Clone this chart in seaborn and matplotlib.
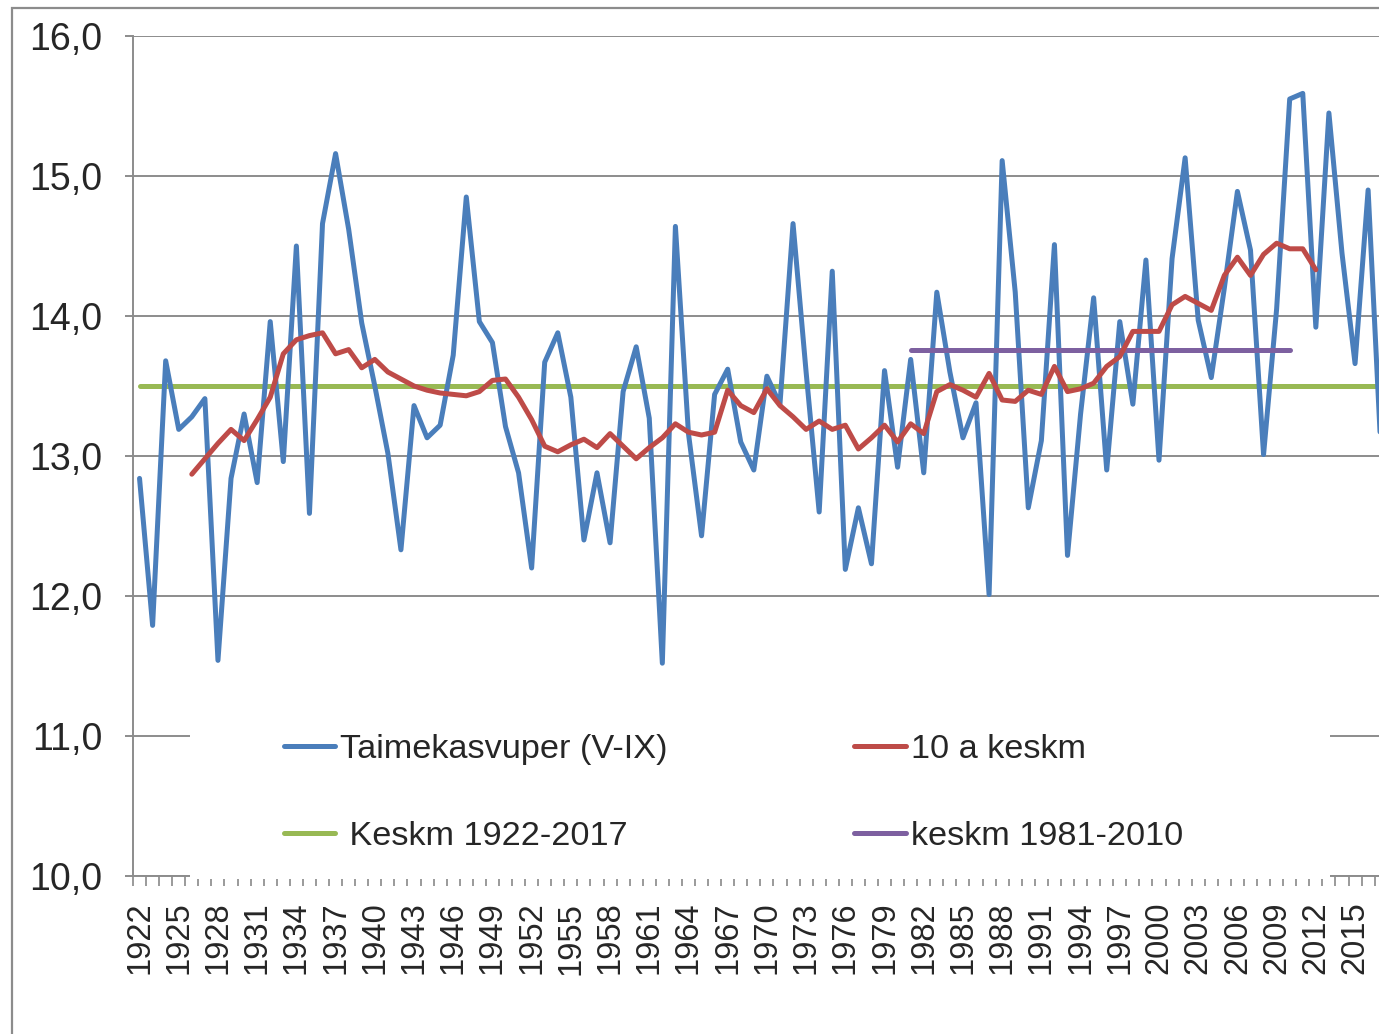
import numpy as np
import pandas as pd
import matplotlib
matplotlib.use("Agg")
import matplotlib.pyplot as plt
from matplotlib.patches import Rectangle
from matplotlib.ticker import FixedLocator, FuncFormatter
import seaborn as sns

# ---------------- data ----------------
years = list(range(1922, 2018))
growing_season_temp = [
    12.84, 11.79, 13.68, 13.19, 13.28, 13.41, 11.54, 12.84, 13.30, 12.81,   # 1922-1931
    13.96, 12.96, 14.50, 12.59, 14.66, 15.16, 14.62, 13.95, 13.50, 13.02,   # 1932-1941
    12.33, 13.36, 13.13, 13.22, 13.72, 14.85, 13.96, 13.81, 13.21, 12.88,   # 1942-1951
    12.20, 13.67, 13.88, 13.42, 12.40, 12.88, 12.38, 13.46, 13.78, 13.27,   # 1952-1961
    11.52, 14.64, 13.16, 12.43, 13.44, 13.62, 13.10, 12.90, 13.57, 13.37,   # 1962-1971
    14.66, 13.60, 12.60, 14.32, 12.19, 12.63, 12.23, 13.61, 12.92, 13.69,   # 1972-1981
    12.88, 14.17, 13.60, 13.13, 13.38, 12.01, 15.11, 14.17, 12.63, 13.11,   # 1982-1991
    14.51, 12.29, 13.30, 14.13, 12.90, 13.96, 13.37, 14.40, 12.97, 14.41,   # 1992-2001
    15.13, 13.97, 13.56, 14.20, 14.89, 14.47, 13.01, 14.05, 15.55, 15.59,   # 2002-2011
    13.92, 15.45, 14.45, 13.66, 14.90, 13.00,                               # 2012-2017
]

ma_years = list(range(1926, 2013))
ma_values = [
    12.87, 12.98, 13.09, 13.19, 13.11, 13.26, 13.42, 13.73, 13.83, 13.86,   # 1926-1935
    13.88, 13.73, 13.76, 13.63, 13.69, 13.60, 13.55, 13.50, 13.47, 13.45,   # 1936-1945
    13.44, 13.43, 13.46, 13.54, 13.55, 13.42, 13.26, 13.07, 13.03, 13.08,   # 1946-1955
    13.12, 13.06, 13.16, 13.07, 12.98, 13.06, 13.13, 13.23, 13.17, 13.15,   # 1956-1965
    13.17, 13.47, 13.36, 13.31, 13.48, 13.36, 13.28, 13.19, 13.25, 13.19,   # 1966-1975
    13.22, 13.05, 13.13, 13.22, 13.10, 13.23, 13.16, 13.46, 13.51, 13.47,   # 1976-1985
    13.42, 13.59, 13.40, 13.39, 13.47, 13.44, 13.64, 13.46, 13.48, 13.52,   # 1986-1995
    13.64, 13.71, 13.89, 13.89, 13.89, 14.08, 14.14, 14.09, 14.04, 14.29,   # 1996-2005
    14.42, 14.29, 14.44, 14.52, 14.48, 14.48, 14.33,                        # 2006-2012
]

mean_all_years = [1922, 2017]
mean_all_value = 13.50
mean_norm_years = [1981, 2010]
mean_norm_value = 13.76

tick_years = list(range(1922, 2016, 3))
y_ticks = [10, 11, 12, 13, 14, 15, 16]

labels = ["Taimekasvuper (V-IX)", "10 a keskm", " Keskm 1922-2017", "keskm 1981-2010"]
colors = ["#4A7EBB", "#BE4B48", "#98B954", "#7D60A0"]

# ---------------- figure ----------------
sns.set_style("white")
plt.rcParams["font.family"] = ["Liberation Sans", "DejaVu Sans"]

W, H = 1379, 1034
fig = plt.figure(figsize=(W / 100, H / 100), dpi=100)
fig.patch.set_facecolor("white")

ax_left, ax_right, ax_top, ax_bottom = 133, 1379, 36, 876
ax = fig.add_axes([ax_left / W, 1 - ax_bottom / H, (ax_right - ax_left) / W, (ax_bottom - ax_top) / H])

df_main = pd.DataFrame({"year": years, "v": growing_season_temp})
df_ma = pd.DataFrame({"year": ma_years, "v": ma_values})
df_all = pd.DataFrame({"year": mean_all_years, "v": [mean_all_value] * len(mean_all_years)})
df_norm = pd.DataFrame({"year": mean_norm_years, "v": [mean_norm_value] * len(mean_norm_years)})

lw = 3.6
sns.lineplot(data=df_all, x="year", y="v", ax=ax, color=colors[2], linewidth=lw, label=labels[2], zorder=2)
sns.lineplot(data=df_main, x="year", y="v", ax=ax, color=colors[0], linewidth=lw, label=labels[0], zorder=3)
sns.lineplot(data=df_ma, x="year", y="v", ax=ax, color=colors[1], linewidth=lw, label=labels[1], zorder=3.2)
sns.lineplot(data=df_norm, x="year", y="v", ax=ax, color=colors[3], linewidth=lw, label=labels[3], zorder=3.1)

# axes limits (chart cropped on the right)
px_per_year = 13.07
x0 = 1921.5
ax.set_xlim(x0, x0 + (ax_right - ax_left) / px_per_year)
ax.set_ylim(10, 16)

# grid
ax.set_yticks(y_ticks)
ax.yaxis.grid(True, color="#8C8C8C", linewidth=1.4)
ax.xaxis.grid(False)
ax.set_axisbelow(True)

# spines
for s in ["top", "right"]:
    ax.spines[s].set_visible(False)
for s in ["left", "bottom"]:
    ax.spines[s].set_visible(True)
    ax.spines[s].set_color("#8C8C8C")
    ax.spines[s].set_linewidth(1.4)

ax.yaxis.set_major_formatter(FuncFormatter(lambda v, p: f"{v:.1f}".replace(".", ",")))
ax.tick_params(axis="y", which="major", direction="out", length=6, width=1.4, color="#8C8C8C",
               labelsize=27, pad=16, left=True)

ax.xaxis.set_major_locator(FixedLocator(tick_years))
ax.set_xticklabels([str(y) for y in tick_years], rotation=90)
ax.xaxis.set_minor_locator(FixedLocator([y + 0.5 for y in range(1921, 2018)]))
ax.tick_params(axis="x", which="major", length=0, labelsize=23.5, pad=18.5)
ax.tick_params(axis="x", which="minor", direction="out", length=7, width=1.4, color="#9A9A9A", bottom=True)

ax.set_xlabel("")
ax.set_ylabel("")

# legend with white box covering the lower grid/axis line
cover = Rectangle(((190 - ax_left) / (ax_right - ax_left), (ax_bottom - 879) / (ax_bottom - ax_top)),
                  (1330 - 190) / (ax_right - ax_left), (879 - 722) / (ax_bottom - ax_top),
                  transform=ax.transAxes, facecolor="white", edgecolor="none",
                  zorder=4, clip_on=False)
ax.add_patch(cover)

handles, labs = ax.get_legend_handles_labels()
order = [labs.index(l) for l in [labels[0], labels[2], labels[1], labels[3]]]
leg = ax.legend([handles[i] for i in order], [labs[i] for i in order], ncol=2,
                loc="center", bbox_to_anchor=((733.5 - ax_left) / (ax_right - ax_left),
                                              (ax_bottom - 793) / (ax_bottom - ax_top)),
                frameon=False, fontsize=24.7, handlelength=1.5, handletextpad=0.15,
                columnspacing=5.43, labelspacing=1.62)
leg.set_zorder(5)

# outer chart border (top and left visible)
fig.patches.append(Rectangle((12 / W, -0.1), 1.2, 1 - 8 / H + 0.1, transform=fig.transFigure,
                             facecolor="none", edgecolor="#8C8C8C", linewidth=1.6))

fig.savefig("out.png", dpi=100)
